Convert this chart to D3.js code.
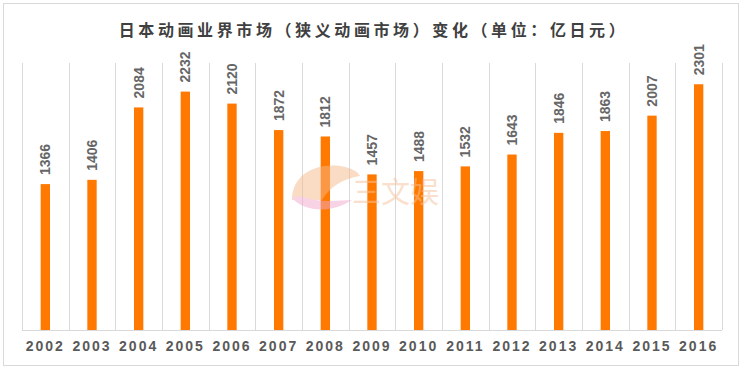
<!DOCTYPE html>
<html>
<head>
<meta charset="utf-8">
<script src="https://cdn.jsdelivr.net/npm/d3@7"></script>
<style>
  body { margin: 0; background: #fff; }
  svg text { font-family: Arial, "Liberation Sans", "Noto Sans CJK SC", sans-serif; }
</style>
</head>
<body>
<div id="chart"></div>
<script>
// chart data
var years = ["2002", "2003", "2004", "2005", "2006", "2007", "2008", "2009",
    "2010", "2011", "2012", "2013", "2014", "2015", "2016"];
var marketValues = [1366, 1406, 2084, 2232, 2120, 1872, 1812, 1457,
    1488, 1532, 1643, 1846, 1863, 2007, 2301];
var yMax = 2500;
var titleText = "日本动画业界市场（狭义动画市场）变化（单位：亿日元）";

var svgWidth = 743;
var svgHeight = 370;

var margin = { top: 63, right: 21, bottom: 40, left: 22 };
var width = svgWidth - margin.left - margin.right;
var height = svgHeight - margin.top - margin.bottom;

var svg = d3.select("#chart")
    .append("svg")
    .attr("width", svgWidth)
    .attr("height", svgHeight);

// outer frame
svg.append("rect")
    .attr("x", 3.5)
    .attr("y", 3.5)
    .attr("width", 735)
    .attr("height", 362)
    .attr("fill", "#fff")
    .attr("stroke", "#d9d9d9");

var chartGroup = svg.append("g")
    .attr("transform", `translate(${margin.left}, ${margin.top})`);

var xScale = d3.scaleBand()
    .domain(years)
    .range([0, width])
    .paddingInner(0.8)
    .paddingOuter(0.4);

var yScale = d3.scaleLinear()
    .domain([0, yMax])
    .range([height, 0]);

// vertical separators between categories
var bounds = d3.range(years.length + 1).map(i => i * width / years.length);
chartGroup.selectAll(".sep")
    .data(bounds)
    .enter()
    .append("line")
    .attr("class", "sep")
    .attr("x1", d => Math.round(d) + 0.5)
    .attr("x2", d => Math.round(d) + 0.5)
    .attr("y1", 0)
    .attr("y2", height)
    .attr("stroke", "#d9d9d9");

// watermark
var wm = svg.append("g").attr("opacity", 0.5);
wm.append("path")
    .attr("d", "M292,200 C292,175 315,163 340,166 C352,168 358,172 360,176 C345,178 330,186 322,200 Z")
    .attr("fill", "#f6b98a");
wm.append("path")
    .attr("d", "M292,198 C305,212 330,214 352,200 C340,200 322,204 300,196 Z")
    .attr("fill", "#f3a9cc");
wm.append("text")
    .attr("x", 352).attr("y", 203)
    .attr("font-size", 29)
    .attr("fill", "#f6c29a")
    .text("三文娱");

// bars
chartGroup.selectAll(".bar")
    .data(marketValues)
    .enter()
    .append("rect")
    .attr("class", "bar")
    .attr("x", (d, i) => xScale(years[i]))
    .attr("y", d => yScale(d))
    .attr("width", xScale.bandwidth())
    .attr("height", d => height - yScale(d))
    .attr("fill", "#ff7800");

// value labels, rotated
chartGroup.selectAll(".val")
    .data(marketValues)
    .enter()
    .append("text")
    .attr("class", "val")
    .attr("transform", (d, i) =>
        `translate(${xScale(years[i]) + xScale.bandwidth() / 2 + 5}, ${yScale(d) - 9}) rotate(-90)`)
    .attr("font-size", 14)
    .attr("font-weight", "bold")
    .attr("fill", "#666")
    .text(d => d);

// x axis
var bottomAxis = d3.axisBottom(xScale).tickSize(0).tickPadding(11);
var xAxis = chartGroup.append("g")
    .attr("transform", `translate(0, ${height})`)
    .call(bottomAxis);
xAxis.select(".domain")
    .attr("d", `M0,0.5H${width}`)
    .attr("stroke", "#d9d9d9");
xAxis.selectAll("text")
    .attr("font-size", 14)
    .attr("font-weight", "bold")
    .attr("letter-spacing", "2px")
    .attr("fill", "#595959");

// title
svg.append("text")
    .attr("x", svgWidth / 2 + 2)
    .attr("y", 36)
    .attr("text-anchor", "middle")
    .attr("font-size", 16)
    .attr("font-weight", "bold")
    .attr("letter-spacing", "3.6px")
    .attr("fill", "#404040")
    .text(titleText);
</script>
</body>
</html>
